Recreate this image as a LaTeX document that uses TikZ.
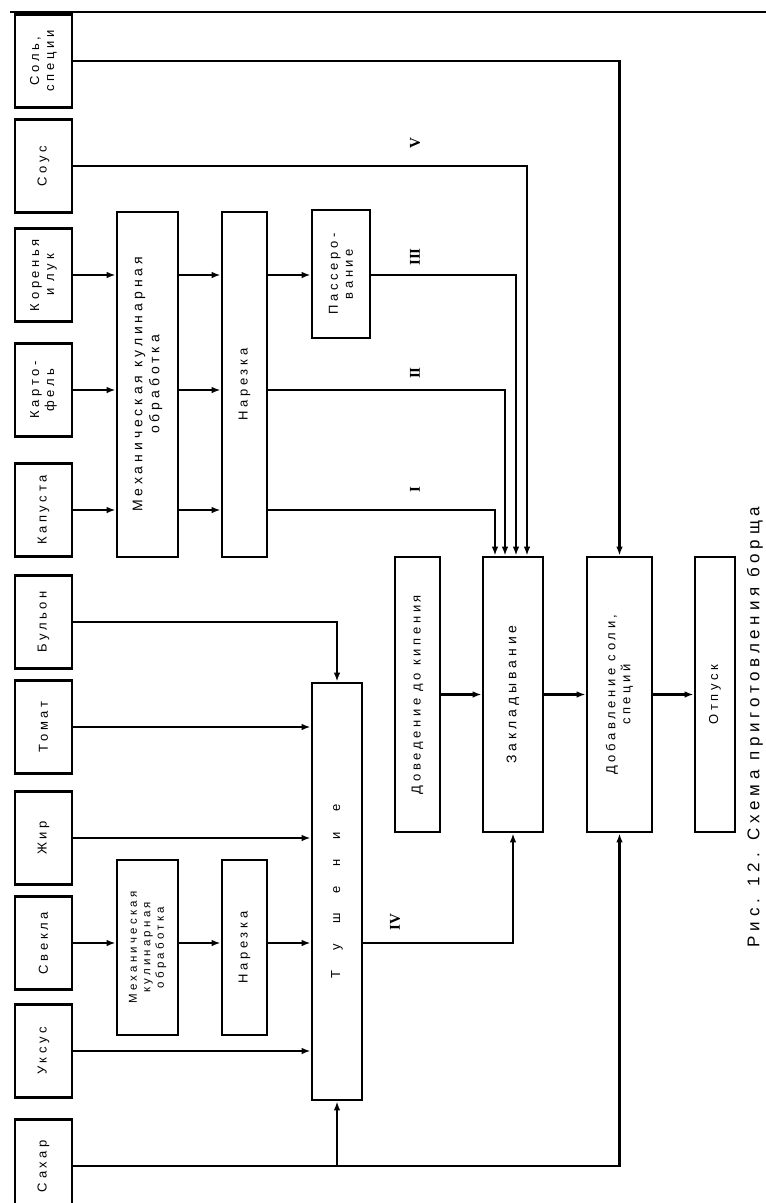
\documentclass[tikz,border=0pt]{standalone}
\usepackage{fontspec}
\setmainfont{Liberation Sans}[LetterSpace=28]
\newfontfamily\numfont{Liberation Serif}
\usetikzlibrary{arrows.meta}

\tikzset{
  blk/.style={draw, line width=2.6pt, rotate=90, inner sep=1pt, align=center,
    font=\fontsize{13}{15}\selectfont},
  src/.style={blk, minimum width=93pt, minimum height=57pt},
  ln/.style={line width=2.2pt},
  arr/.style={ln, -{Latex[length=9pt,width=6.5pt]}},
  num/.style={rotate=90, font=\numfont\bfseries\fontsize{15}{15}\selectfont},
}

\begin{document}
\begin{tikzpicture}[x=1pt,y=-1pt]
    \useasboundingbox (0,0) rectangle (766,1203);
    \draw[line width=1.2pt] (10,12) -- (766,12);

    \node[src] (sol) at (43.5,61) {Соль,\\специи};
    \node[src] (sous) at (43.5,166) {Соус};
    \node[src] (kor) at (43.5,275) {Коренья\\и лук};
    \node[src] (kar) at (43.5,390) {Карто-\\фель};
    \node[src] (kap) at (43.5,510) {Капуста};
    \node[src] (bul) at (43.5,622) {Бульон};
    \node[src] (tom) at (43.5,727) {Томат};
    \node[src] (zhir) at (43.5,838) {Жир};
    \node[src] (svek) at (43.5,943) {Свекла};
    \node[src] (uks) at (43.5,1051) {Уксус};
    \node[src] (sah) at (43.5,1166) {Сахар};

    \node[blk, minimum width=345pt, minimum height=61pt, font=\fontsize{14}{17}\selectfont] (mech1) at (147.5,384.5) {Механическая кулинарная\\обработка};
    \node[blk, minimum width=345pt, minimum height=45pt] (nar1) at (244.5,384.5) {Нарезка};
    \node[blk, minimum width=128pt, minimum height=58pt] (pas) at (341,274) {Пассеро-\\вание};
    \node[blk, minimum width=175pt, minimum height=61pt, font=\fontsize{11.5}{13.5}\selectfont] (mech2) at (147.5,947.5) {Механическая\\кулинарная\\обработка};
    \node[blk, minimum width=175pt, minimum height=45pt] (nar2) at (244.5,947.5) {Нарезка};
    \node[blk, minimum width=417pt, minimum height=50pt] (tush) at (337,891.5) {Т\hspace{20pt}у\hspace{20pt}ш\hspace{20pt}е\hspace{20pt}н\hspace{20pt}и\hspace{20pt}е};
    \node[blk, minimum width=275pt, minimum height=45pt] (dov) at (417.5,694.5) {Доведение до кипения};
    \node[blk, minimum width=275pt, minimum height=60pt, font=\fontsize{14}{16}\selectfont] (zak) at (513,694.5) {Закладывание};
    \node[blk, minimum width=275pt, minimum height=65pt] (dob) at (619.5,694.5) {Добавление соли,\\специй};
    \node[blk, minimum width=275pt, minimum height=40pt] (otp) at (715,694.5) {Отпуск};
    \node[rotate=90, font=\fontsize{17}{17}\selectfont] (cap) at (755,727) {Рис. 12. Схема приготовления борща};

    \node[num] (r5) at (415,143) {V};
    \node[num] (r3) at (415,257) {III};
    \node[num] (r2) at (415,373) {II};
    \node[num] (r1) at (415,490) {I};
    \node[num] (r4) at (395,922) {IV};

    \draw[arr] (sol.south) -| (dob.east);
    \draw[arr] (sous.south) -| ([xshift=14pt]zak.east);
    \draw[arr] (kor.south) -- (kor.south -| mech1.north);
    \draw[arr] (kor.south -| mech1.south) -- (kor.south -| nar1.north);
    \draw[arr] (kor.south -| nar1.south) -- (kor.south -| pas.north);
    \draw[arr] (kor.south -| pas.south) -| ([xshift=3pt]zak.east);
    \draw[arr] (kar.south) -- (kar.south -| mech1.north);
    \draw[arr] (kar.south -| mech1.south) -- (kar.south -| nar1.north);
    \draw[arr] (kar.south -| nar1.south) -| ([xshift=-8pt]zak.east);
    \draw[arr] (kap.south) -- (kap.south -| mech1.north);
    \draw[arr] (kap.south -| mech1.south) -- (kap.south -| nar1.north);
    \draw[arr] (kap.south -| nar1.south) -| ([xshift=-18pt]zak.east);
    \draw[arr] (bul.south) -| (tush.east);
    \draw[arr] (tom.south) -- (tom.south -| tush.north);
    \draw[arr] (zhir.south) -- (zhir.south -| tush.north);
    \draw[arr] (svek.south) -- (svek.south -| mech2.north);
    \draw[arr] (svek.south -| mech2.south) -- (svek.south -| nar2.north);
    \draw[arr] (svek.south -| nar2.south) -- (svek.south -| tush.north);
    \draw[arr] (uks.south) -- (uks.south -| tush.north);
    \draw[arr] (sah.south) -| (dob.west);
    \draw[arr] (sah.south -| tush.west) -- (tush.west);
    \draw[arr] (tush.south |- svek.south) -| (zak.west);
    \draw[arr] (dov.south) -- (zak.north);
    \draw[arr] (zak.south) -- (dob.north);
    \draw[arr] (dob.south) -- (otp.north);
\end{tikzpicture}
\end{document}
